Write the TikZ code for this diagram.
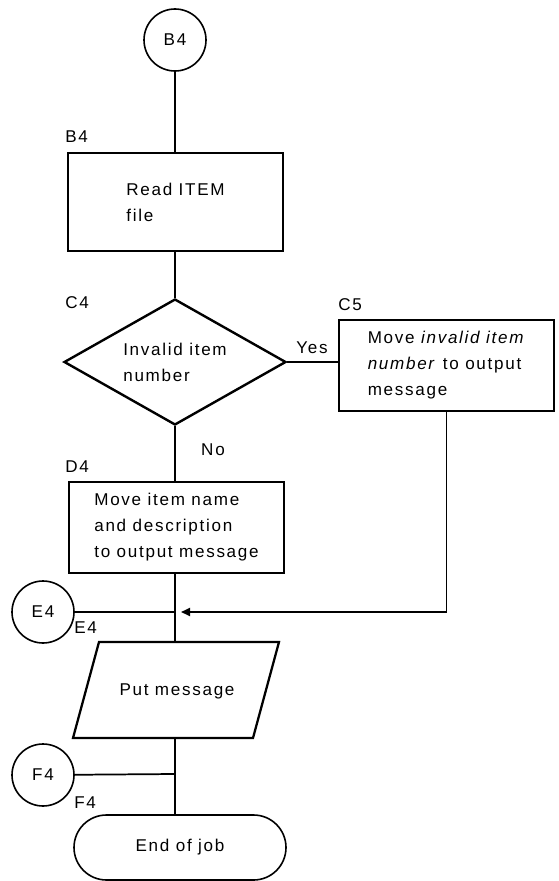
\documentclass[tikz,border=0pt]{standalone}
\usepackage{fontspec}
\setmainfont{Liberation Sans}[LetterSpace=10]
\usetikzlibrary{shapes.geometric,shapes.misc,arrows.meta}
\begin{document}
\begin{tikzpicture}[x=0.75pt,y=-0.75pt,
  txt/.style={font=\fontsize{12.8pt}{19.5pt}\selectfont, align=left},
  procbox/.style={draw, line width=1.7pt, rectangle, minimum width=161.25pt, inner sep=0pt, txt},
  conn/.style={draw, circle, line width=1.2pt, minimum size=46.5pt, inner sep=0pt, txt},
  lbl/.style={txt, inner sep=0pt, anchor=west},
  line/.style={line width=1.3pt}]
\useasboundingbox (0,0) rectangle (558,881);
% nodes
\node[conn] (b4c) at (175,40) {B4};
\node[procbox, minimum height=73.5pt] (read) at (175.5,202) {Read ITEM\\file};
\node[draw, diamond, aspect=1.76, line width=1.8pt, minimum width=166.5pt, minimum height=94.5pt, inner sep=0pt, txt] (dec) at (175,362) {Invalid item\\number};
\node[procbox, minimum height=68.25pt] (c5) at (446.5,365.5) {Move \textit{invalid item}\\\textit{number} to output\\message};
\node[procbox, minimum height=68.25pt] (d4) at (176.5,527.5) {Move item name\\and description\\to output message};
\node[conn] (e4c) at (43,612) {E4};
\coordinate (ej) at (175,612);
\coordinate (cj) at (c5.south |- ej);
\draw[line width=1.7pt] (99,642) -- (279,642) -- (253,738) -- (73,738) -- cycle;
\node[txt, inner sep=0pt] (put) at (177,691) {Put message};
\coordinate (puttop) at (175,642);
\coordinate (putbot) at (175,738);
\node[conn] (f4c) at (43,775) {F4};
\coordinate (fj) at (175,774);
\node[draw, rounded rectangle, line width=1.2pt, minimum width=159pt, minimum height=48.75pt, inner sep=0pt, txt] (end) at (180,847.5) {End of job};
% labels
\node[lbl] (lb4) at (65,137) {B4};
\node[lbl] (lc4) at (65,303) {C4};
\node[lbl] (lc5) at (338,305) {C5};
\node[lbl] (ld4) at (65,467) {D4};
\node[lbl] (le4) at (74,628) {E4};
\node[lbl] (lf4) at (74,803) {F4};
\node[txt, inner sep=0pt] (yes) at (312,348) {Yes};
\node[txt, inner sep=0pt] (no) at (213,450) {No};
% connectors
\draw[line] (b4c) -- (read.north -| b4c);
\draw[line] (read.south -| dec.north) -- (dec.north);
\draw[line] (dec.east) -- (c5.west |- dec.east);
\draw[line] (dec.south) -- (dec.south |- d4.north);
\draw[line] (ej |- d4.south) -- (ej) -- (puttop);
\draw[line] (e4c) -- (ej);
\draw[line, -{Triangle[length=6.75pt,width=6pt]}, shorten >=4.5pt] (c5.south) -- (cj) -- (ej);
\draw[line] (putbot) -- (fj) -- (fj |- end.north);
\draw[line] (f4c) -- (fj);
\end{tikzpicture}
\end{document}
